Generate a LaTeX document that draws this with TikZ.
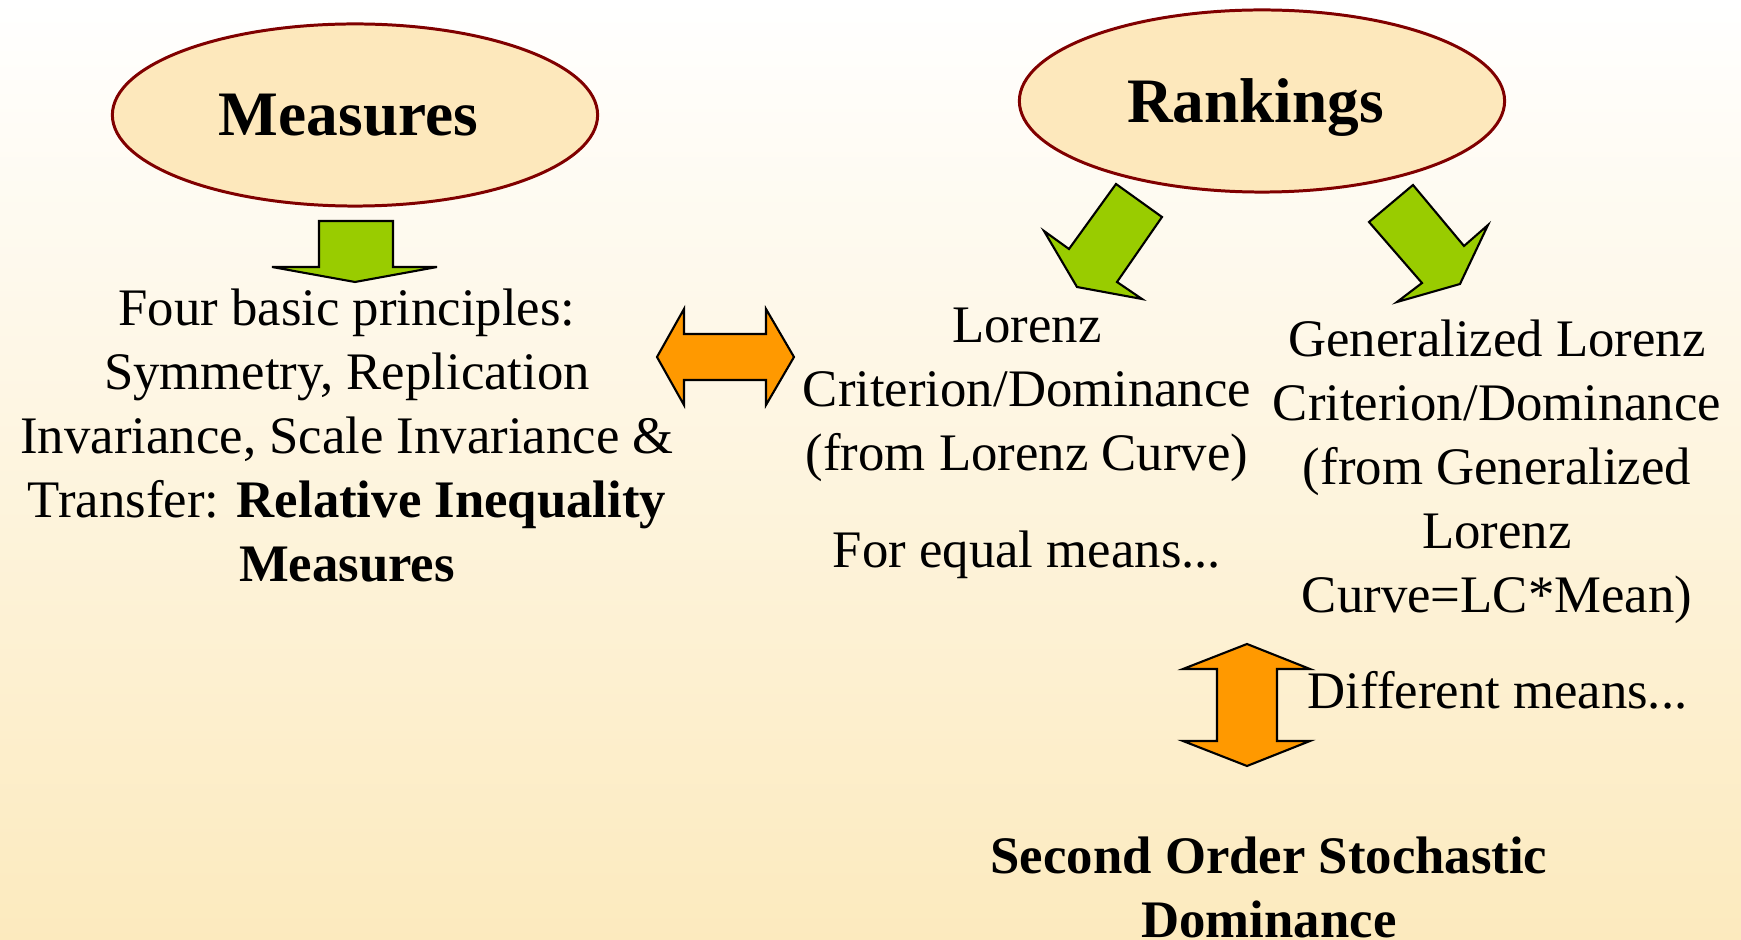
\documentclass[tikz,border=0pt]{standalone}
\usepackage{fontspec}
\setmainfont{Liberation Serif}
\usetikzlibrary{shapes.geometric}
\definecolor{peach}{RGB}{253,232,188}
\definecolor{rimred}{RGB}{128,0,0}
\definecolor{leaf}{RGB}{153,204,0}
\definecolor{amber}{RGB}{255,153,0}
\definecolor{paper}{RGB}{252,234,190}

\begin{document}
\begin{tikzpicture}[line cap=round,line join=round,x=0.01cm,y=-0.01cm,
  oval/.style={ellipse,draw=rimred,line width=0.85pt,fill=peach,minimum width=4.85cm,
    minimum height=1.82cm,inner sep=0pt,text depth=0pt,font=\fontsize{18}{22}\selectfont\bfseries},
  txt/.style={align=center,inner sep=0pt,font=\fontsize{15}{18.2}\selectfont},
  greenarr/.style={draw=black,line width=0.6pt,fill=leaf,line join=miter},
  orangearr/.style={draw=black,line width=0.6pt,fill=amber,line join=miter}]
% background
\useasboundingbox (0,0) rectangle (1741,940);
\fill[top color=white,bottom color=paper] (0,0) rectangle (1741,940);
% the two headings
\node[oval] (measures) at (355,115) {Measures\kern0.13cm};
\node[oval] (rankings) at (1262,101) {Rankings\kern0.13cm};
% green arrows
\draw[greenarr] (319,221) -- (393,221) -- (393,267) -- (437,267) -- (355,282)
  -- (272,267) -- (319,267) -- cycle;
\draw[greenarr] (1116,184) -- (1162,217) -- (1117,282) -- (1142,299) -- (1077,287)
  -- (1044,231) -- (1069,249) -- cycle;
\draw[greenarr] (1369,222) -- (1413,185) -- (1464,246) -- (1488,225) -- (1460,284)
  -- (1397,302) -- (1422,283) -- cycle;
% orange arrows
\draw[orangearr] (657,357) -- (684,309) -- (684,334) -- (766,334) -- (766,309)
  -- (794,357) -- (766,405) -- (766,380) -- (684,380) -- (684,405) -- cycle;
\draw[orangearr] (1247,644) -- (1310,669) -- (1277,669) -- (1277,741) -- (1310,741)
  -- (1247,766) -- (1183,741) -- (1217,741) -- (1217,669) -- (1183,669) -- cycle;
% texts
\node[txt] (principles) at (347,436) {Four basic principles:\\Symmetry, Replication\\
  Invariance, Scale Invariance \&\\Transfer: \textbf{Relative Inequality}\\\textbf{Measures}};
\node[txt] (lorenz) at (1027,395) {Lorenz\\Criterion/Dominance\\(from Lorenz Curve)};
\node[txt] (equal) at (1027,555) {For equal means...};
\node[txt] (genlorenz) at (1497,472) {Generalized Lorenz\\Criterion/Dominance\\
  (from Generalized\\Lorenz\\Curve=LC*Mean)};
\node[txt,anchor=west] (different) at (1307,690) {Different means...};
\node[txt,font=\fontsize{15}{18.2}\selectfont\bfseries] (ssd) at (1269,887)
  {Second Order Stochastic\\Dominance};
\end{tikzpicture}
\end{document}
